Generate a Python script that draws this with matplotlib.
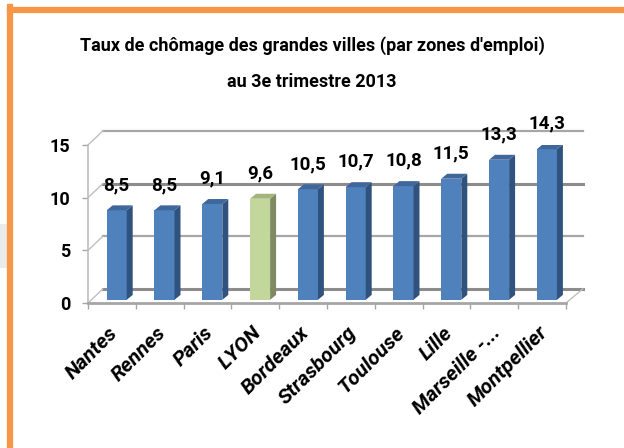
import matplotlib.pyplot as plt
import matplotlib.transforms as mtransforms
from matplotlib.patches import Polygon, Rectangle
from matplotlib.lines import Line2D

# data
cities = ['Nantes', 'Rennes', 'Paris', 'LYON', 'Bordeaux', 'Strasbourg',
          'Toulouse', 'Lille', 'Marseille -...', 'Montpellier']
rates = [8.5, 8.5, 9.1, 9.6, 10.5, 10.7, 10.8, 11.5, 13.3, 14.3]
yticks = [0, 5, 10, 15]
highlight = 'LYON'

FONT = 'Roboto'
plt.rcParams['font.family'] = FONT
plt.rcParams['font.weight'] = 'bold'

W, H = 624, 448
fig = plt.figure(figsize=(W / 100, H / 100), dpi=100)

# page background behind the frame
fig.add_artist(Rectangle((0, 1 - 268 / H), 7 / W, 44 / H, transform=fig.transFigure,
                         facecolor='#EBEBEB', edgecolor='none'))

# orange frame (only top and left edges are visible)
orange = '#F79646'
fig.add_artist(Line2D([9.5 / W, 1], [1 - 10 / H, 1 - 10 / H], color=orange, lw=4.5))
fig.add_artist(Line2D([9.5 / W, 9.5 / W], [0, 1 - 7 / H], color=orange, lw=4.5))

fig.text(0.5, 1 - 51 / H, "Taux de chômage des grandes villes (par zones d'emploi)",
         ha='center', va='baseline', fontsize=13, fontweight='bold')
fig.text(0.5, 1 - 87 / H, "au 3e trimestre 2013",
         ha='center', va='baseline', fontsize=13, fontweight='bold')

ax = fig.add_axes([88 / W, 145 / H, 478 / W, 158 / H])
ax.set_xlim(-0.5, len(cities) - 0.5)
ax.set_ylim(0, 15)
for s in ['top', 'right']:
    ax.spines[s].set_visible(False)
ax.spines['left'].set_color('#BFBFBF')
ax.spines['left'].set_linewidth(1.2)
ax.spines['bottom'].set_color('#A6A6A6')
ax.spines['bottom'].set_linewidth(2)

ax.set_yticks(yticks)
ax.tick_params(axis='y', length=4.3, width=1, color='#A6A6A6', pad=8.6, labelsize=13)
ax.set_xticks([])
ax.set_xticks([i - 0.5 for i in range(len(cities) + 1)], minor=True)
ax.tick_params(axis='x', which='minor', length=4, width=1, color='#A6A6A6')

# depth of the 3d box
DX, DY = 0.31, 1.33
x0, x1 = -0.5, len(cities) - 0.5
grid_style = {0: ('#8C8C8C', 2.2), 5: ('#A6A6A6', 1.6), 10: ('#8C8C8C', 2.2), 15: ('#A6A6A6', 1.6)}
for y in yticks:
    c, lw = grid_style[y]
    ax.plot([x0 + DX, x1 + DX + 0.04], [y + DY, y + DY], color=c, lw=lw, clip_on=False, zorder=1)
    ax.plot([x0, x0 + DX], [y, y + DY], color='#BFBFBF', lw=1, clip_on=False, zorder=1)
ax.plot([x1, x1 + DX + 0.04], [0, DY], color='#BFBFBF', lw=1, clip_on=False, zorder=1)

# bars
BX, BW, B0 = 0.1, 0.42, 0.3
SX, SY = 0.125, 0.47
front, side, top = [], [], []
for name in cities:
    if name == highlight:
        front.append('#C3D69B'); side.append('#7F8A63'); top.append('#A3B47D')
    else:
        front.append('#4F81BD'); side.append('#30527F'); top.append('#3F679C')

xs = [i + BX for i in range(len(cities))]
ax.bar(xs, rates, width=BW, bottom=B0, color=front, zorder=3)
for x, v, cs, ct in zip(xs, rates, side, top):
    l, r = x - BW / 2, x + BW / 2
    t = B0 + v
    ax.add_patch(Polygon([(r, B0), (r + SX, B0 + SY), (r + SX, t + SY), (r, t)],
                         closed=True, facecolor=cs, edgecolor='none', zorder=3))
    ax.add_patch(Polygon([(l, t), (r, t), (r + SX, t + SY), (l + SX, t + SY)],
                         closed=True, facecolor=ct, edgecolor='none', zorder=3))
    ax.text(x, t + 2.4, f'{v:.1f}'.replace('.', ','), ha='center', va='center',
            fontsize=13.5, fontweight='bold', clip_on=False)

# rotated category labels
trans = mtransforms.blended_transform_factory(ax.transData, ax.transAxes)
for i, name in enumerate(cities):
    ax.text(i + 0.06, -0.17, name, transform=trans, rotation=45, rotation_mode='anchor',
            ha='right', va='center', fontsize=15, fontweight='bold', style='italic')

fig.savefig('out.png', dpi=100)
